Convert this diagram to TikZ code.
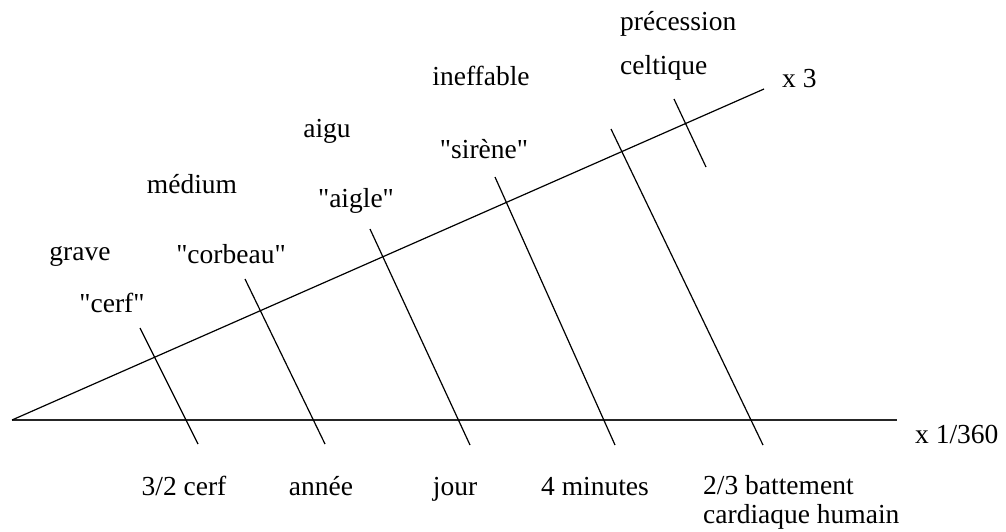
\documentclass[tikz,border=0pt]{standalone}
\usepackage{fontspec}
\setmainfont{Liberation Serif}
\newcommand{\qq}[1]{\textquotedbl#1\textquotedbl}
\begin{document}
\begin{tikzpicture}[x=1pt,y=-1pt,
  lbl/.style={inner sep=0pt,anchor=base,font=\fontsize{27.5}{33}\selectfont},
  lblw/.style={lbl,anchor=base west},
  axis/.style={line width=1.6pt,black!85},
  tick/.style={line width=1.2pt,black}]
\useasboundingbox (0,0) rectangle (1006,531);
% axes
\coordinate (O) at (12,420);
\coordinate (H) at (897,420);
\coordinate (D) at (764,89);
\draw[axis] (O) -- (H);
\draw[tick] (O) -- (D);
% ticks
\coordinate (t1a) at (140,328); \coordinate (t1b) at (198,444);
\coordinate (t2a) at (245,279); \coordinate (t2b) at (325,444);
\coordinate (t3a) at (370,229); \coordinate (t3b) at (470,445);
\coordinate (t4a) at (495,177); \coordinate (t4b) at (615,445);
\coordinate (t5a) at (611,129); \coordinate (t5b) at (763,445);
\coordinate (t6a) at (674,99);  \coordinate (t6b) at (706,167);
\draw[tick] (t1a) -- (t1b);
\draw[tick] (t2a) -- (t2b);
\draw[tick] (t3a) -- (t3b);
\draw[tick] (t4a) -- (t4b);
\draw[tick] (t5a) -- (t5b);
\draw[tick] (t6a) -- (t6b);
% axis labels
\node[lblw] (x3) at (782,87) {x 3};
\node[lblw] (x360) at (915,443) {x 1/360};
% upper labels
\node[lbl] (grave) at (80,260) {grave};
\node[lbl] (cerf) at (112,312) {\qq{cerf}};
\node[lbl] (medium) at (192,193) {médium};
\node[lbl] (corbeau) at (231,263) {\qq{corbeau}};
\node[lbl] (aigu) at (327,137) {aigu};
\node[lbl] (aigle) at (356,207) {\qq{aigle}};
\node[lbl] (ineffable) at (481,85) {ineffable};
\node[lbl] (sirene) at (484,158) {\qq{sirène}};
\node[lblw] (precession) at (620,30) {précession};
\node[lblw] (celtique) at (620,74) {celtique};
% lower labels
\node[lbl] (c32) at (184,495) {3/2 cerf};
\node[lbl] (annee) at (321,495) {année};
\node[lbl] (jour) at (455,495) {jour};
\node[lbl] (min4) at (595,495) {4 minutes};
\node[lblw] (batt) at (703,494) {2/3 battement};
\node[lblw] (card) at (703,523) {cardiaque humain};
\end{tikzpicture}
\end{document}
